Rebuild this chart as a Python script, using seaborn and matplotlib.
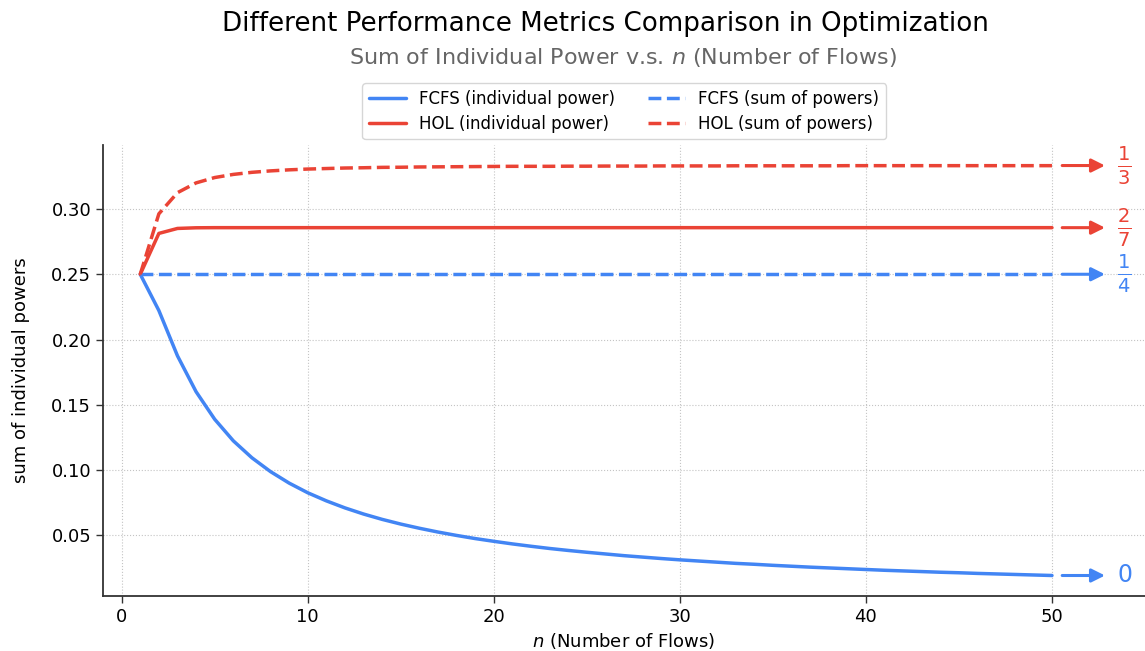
import matplotlib
matplotlib.use("Agg")
import matplotlib.pyplot as plt
import seaborn as sns
import pandas as pd

# ---- data ----
n_flows = list(range(1, 51))
fcfs_individual = [0.2500, 0.2222, 0.1875, 0.1600, 0.1389, 0.1224, 0.1094, 0.0988, 0.0900, 0.0826,
                   0.0764, 0.0710, 0.0663, 0.0622, 0.0586, 0.0554, 0.0525, 0.0499, 0.0475, 0.0454,
                   0.0434, 0.0416, 0.0399, 0.0384, 0.0370, 0.0357, 0.0344, 0.0333, 0.0322, 0.0312,
                   0.0303, 0.0294, 0.0285, 0.0278, 0.0270, 0.0263, 0.0256, 0.0250, 0.0244, 0.0238,
                   0.0232, 0.0227, 0.0222, 0.0217, 0.0213, 0.0208, 0.0204, 0.0200, 0.0196, 0.0192]
hol_individual = [0.2500, 0.2813, 0.2851, 0.2856] + [0.2857] * 46
fcfs_sum = [0.2500] * 50
hol_sum = [0.2500, 0.2963, 0.3125, 0.3200, 0.3241, 0.3265, 0.3281, 0.3292, 0.3300, 0.3306,
           0.3310, 0.3314, 0.3316, 0.3319, 0.3320, 0.3322, 0.3323, 0.3324, 0.3325, 0.3326,
           0.3327, 0.3327, 0.3327, 0.3328, 0.3328, 0.3329, 0.3329, 0.3329, 0.3330, 0.3330,
           0.3330, 0.3330, 0.3331, 0.3331, 0.3331, 0.3331, 0.3331, 0.3331, 0.3332, 0.3332,
           0.3332, 0.3332, 0.3332, 0.3332, 0.3332, 0.3332, 0.3332, 0.3332, 0.3332, 0.3332]
series_names = ["FCFS (individual power)", "HOL (individual power)",
                "FCFS (sum of powers)", "HOL (sum of powers)"]
limit_labels = [r"$0$", r"$\frac{2}{7}$", r"$\frac{1}{4}$", r"$\frac{1}{3}$"]
limit_values = [0.0192, 0.2857, 0.25, 0.3333]

BLUE = "#4285F4"
RED = "#EA4335"
colors = [BLUE, RED, BLUE, RED]
styles = ["-", "-", "--", "--"]

sns.set_theme(style="white")
plt.rcParams["font.family"] = ["DejaVu Sans"]
plt.rcParams["text.color"] = "black"
plt.rcParams["axes.labelcolor"] = "black"
plt.rcParams["xtick.color"] = "black"
plt.rcParams["ytick.color"] = "black"

fig = plt.figure(figsize=(11.45, 6.51), dpi=100)
ax = fig.add_axes([0.09, 0.0845, 0.91, 0.6925])

all_series = [fcfs_individual, hol_individual, fcfs_sum, hol_sum]
for name, vals, c, ls in zip(series_names, all_series, colors, styles):
    df = pd.DataFrame({"n": n_flows, "v": vals})
    sns.lineplot(data=df, x="n", y="v", ax=ax, color=c, linestyle=ls,
                 linewidth=2.5, label=name)

ax.set_xlim(-1, 55)
ax.set_yticks([0.05, 0.10, 0.15, 0.20, 0.25, 0.30])
ax.set_xticks([0, 10, 20, 30, 40, 50])
ax.grid(True, linestyle=":", color="#c4c4c4", linewidth=0.8)
for s in ["top", "right"]:
    ax.spines[s].set_visible(False)
for s in ["left", "bottom"]:
    ax.spines[s].set_color("#333333")
    ax.spines[s].set_linewidth(1.3)
ax.tick_params(axis="both", labelsize=13, length=5, width=1, color="#333333",
               bottom=True, left=True, direction="out")
ax.set_xlabel(r"$n$ (Number of Flows)", fontsize=13)
ax.set_ylabel("sum of individual powers", fontsize=13, labelpad=15)

# limit arrows
for lab, yv, c in zip(limit_labels, limit_values, colors):
    ax.annotate("", xy=(53.0, yv), xytext=(50.4, yv),
                arrowprops=dict(arrowstyle="-|>", color=c, lw=2.2, mutation_scale=20),
                annotation_clip=False)
    ax.text(53.9, yv, lab, color=c, fontsize=17 if lab == r"$0$" else 20,
            ha="center", va="center")

leg = ax.legend(loc="lower center", bbox_to_anchor=(0.5, 1.013), borderaxespad=0,
                ncol=2, fontsize=12, frameon=True, columnspacing=2.0,
                handlelength=2.2, labelspacing=0.4)
leg.get_frame().set_edgecolor("#cccccc")
for t in leg.get_texts():
    t.set_color("black")

fig.text(0.529, 0.963, "Different Performance Metrics Comparison in Optimization",
         ha="center", va="center", fontsize=18.8, color="black")
fig.text(0.544, 0.911, r"Sum of Individual Power v.s. $n$ (Number of Flows)",
         ha="center", va="center", fontsize=16, color="#666666")

fig.savefig("out.png", dpi=100)
